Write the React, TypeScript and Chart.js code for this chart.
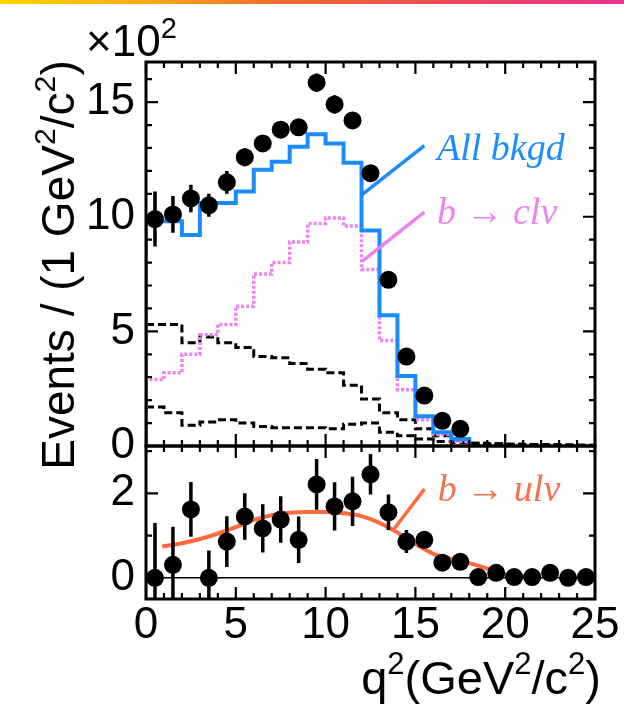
import React, { useEffect, useRef } from 'react';
import { Chart, registerables } from 'chart.js';

Chart.register(...registerables);

// ---- data ----------------------------------------------------------------
// q² bins of 1 GeV²/c², starting at 0
const xTickValues = [0, 5, 10, 15, 20, 25];
const yTopTickValues = [0, 5, 10, 15];
const yBotTickValues = [0, 2];

// upper panel (events ×10²)
const dataTop = [9.9, 10.1, 10.8, 10.5, 11.5, 12.6, 13.2, 13.8, 13.9, 15.85, 14.9, 14.2, 11.9, 7.25, 3.9, 2.2, 1.1, 0.75];
const dataTopErr = [1.2, 0.8, 0.6, 0.5, 0.5, 0.4, 0.35, 0.35, 0.35, 0.4, 0.4, 0.35, 0.35, 0.3, 0.25, 0.2, 0.15, 0.15];
const allBkgd = [9.8, 9.8, 9.2, 10.6, 10.6, 11.1, 12.05, 12.4, 13.05, 13.6, 13.2, 12.35, 9.4, 5.7, 3.05, 1.3, 0.6, 0.3];
const bToCLNu = [2.9, 3.2, 4.0, 4.85, 5.3, 6.1, 7.5, 8.0, 8.9, 9.7, 9.95, 9.6, 7.7, 4.6, 2.45, 1.15, 0.5, 0.2];
const bkgdUpper = [5.3, 5.3, 4.5, 4.75, 4.5, 4.3, 3.9, 3.85, 3.6, 3.35, 3.2, 2.65, 2.05, 1.45, 1.15, 0.75, 0.45, 0.25, 0.12, 0.1, 0.08, 0.06, 0.05, 0.04, 0.03];
const bkgdLower = [1.7, 1.45, 0.9, 1.05, 1.15, 1.0, 0.85, 0.8, 0.8, 0.8, 0.75, 0.95, 1.0, 0.6, 0.45, 0.3, 0.2, 0.15, 0.12, 0.1, 0.08, 0.06, 0.05, 0.04, 0.03];

// lower panel (background-subtracted yield ×10²)
const dataBot = [0.0, 0.31, 1.62, 0.0, 0.86, 1.45, 1.17, 1.38, 0.9, 2.21, 1.69, 1.81, 2.45, 1.55, 0.86, 0.9, 0.36, 0.38, 0.02, 0.12, 0.02, 0.02, 0.12, 0.0, 0.02];
const dataBotErr = [1.3, 0.9, 0.65, 0.65, 0.6, 0.55, 0.57, 0.55, 0.55, 0.6, 0.57, 0.58, 0.48, 0.42, 0.27, 0.2, 0.15, 0.12, 0.1, 0.08, 0.06, 0.05, 0.05, 0.05, 0.05];
const ulFitQ2 = [0.9, 2, 3, 4, 5, 6, 7, 8, 9, 10, 11, 12, 13, 14, 15, 16, 17, 18, 19, 20, 21, 22];
const ulFitVal = [0.74, 0.82, 0.92, 1.05, 1.2, 1.37, 1.48, 1.54, 1.56, 1.56, 1.53, 1.46, 1.3, 1.07, 0.8, 0.57, 0.45, 0.35, 0.22, 0.08, 0.02, 0.0];

// ---- styling --------------------------------------------------------------
const SANS = "'Liberation Sans', Arial, Helvetica, sans-serif";
const SERIF = "'Liberation Serif', 'Times New Roman', serif";
const BLUE = '#1a8cff';
const VIOLET = '#ee82ee';
const ORANGE = '#ff6a3d';
const ORANGE_TEXT = '#f3724f';

type Pt = { x: number; y: number };

const histogram = (vals: number[], fromZero: boolean): Pt[] => {
  const pts: Pt[] = fromZero ? [{ x: 0, y: 0 }] : [];
  vals.forEach((v, i) => pts.push({ x: i, y: v }));
  pts.push({ x: vals.length, y: vals[vals.length - 1] });
  pts.push({ x: vals.length, y: 0 });
  return pts;
};
const binCentres = (vals: number[]): Pt[] => vals.map((v, i) => ({ x: i + 0.5, y: v }));

type Seg = { t: string; sup?: boolean };

function richWidth(ctx: CanvasRenderingContext2D, segs: Seg[], size: number) {
  let w = 0;
  for (const s of segs) {
    ctx.font = `${s.sup ? size * 0.66 : size}px ${SANS}`;
    w += ctx.measureText(s.t).width;
  }
  return w;
}

function drawRich(ctx: CanvasRenderingContext2D, segs: Seg[], x: number, y: number, size: number) {
  let cx = x;
  ctx.textBaseline = 'alphabetic';
  ctx.textAlign = 'left';
  for (const s of segs) {
    const fs = s.sup ? size * 0.66 : size;
    ctx.font = `${fs}px ${SANS}`;
    ctx.fillText(s.t, cx, s.sup ? y - size * 0.42 : y);
    cx += ctx.measureText(s.t).width;
  }
}

const panelDecor = {
  id: 'panelDecor',
  beforeDatasetDraw(chart: any, args: any) {
    const ds = chart.data.datasets[args.index];
    if (!ds.errorBars) return;
    const ctx: CanvasRenderingContext2D = chart.ctx;
    const ys = chart.scales[args.meta.yAxisID];
    const a = chart.chartArea;
    ctx.save();
    ctx.beginPath();
    ctx.rect(a.left, a.top, a.right - a.left, a.bottom - a.top);
    ctx.clip();
    ctx.strokeStyle = '#000';
    ctx.lineWidth = 3.5;
    ctx.beginPath();
    ds.data.forEach((p: Pt, i: number) => {
      const e = ds.errorBars[i];
      const px = args.meta.data[i].x;
      ctx.moveTo(px, ys.getPixelForValue(p.y - e));
      ctx.lineTo(px, ys.getPixelForValue(p.y + e));
    });
    ctx.stroke();
    ctx.restore();
  },
  afterDatasetsDraw(chart: any) {
    const ctx: CanvasRenderingContext2D = chart.ctx;
    const x = chart.scales.x;
    const yt = chart.scales.yTop;
    const yb = chart.scales.yBot;
    const labels = [
      { ys: yt, from: [12.03, 10.96], to: [15.5, 13.1], text: 'All bkgd', at: [16.2, 12.9], color: BLUE, textColor: BLUE },
      { ys: yt, from: [12.03, 8.05], to: [15.5, 10.2], text: 'b \u2192 cl\u03BD', at: [16.2, 10.1], color: VIOLET, textColor: VIOLET },
      { ys: yb, from: [13.8, 1.15], to: [15.5, 2.1], text: 'b \u2192 ul\u03BD', at: [16.25, 2.05], color: ORANGE, textColor: ORANGE_TEXT },
    ];
    ctx.save();
    for (const l of labels) {
      ctx.strokeStyle = l.color;
      ctx.lineWidth = 3.5;
      ctx.beginPath();
      ctx.moveTo(x.getPixelForValue(l.from[0]), l.ys.getPixelForValue(l.from[1]));
      ctx.lineTo(x.getPixelForValue(l.to[0]), l.ys.getPixelForValue(l.to[1]));
      ctx.stroke();
      ctx.fillStyle = l.textColor;
      ctx.font = `italic 38px ${SERIF}`;
      ctx.textAlign = 'left';
      ctx.textBaseline = 'middle';
      ctx.fillText(l.text, x.getPixelForValue(l.at[0]), l.ys.getPixelForValue(l.at[1]));
    }
    ctx.restore();
  },
  afterDraw(chart: any) {
    const ctx: CanvasRenderingContext2D = chart.ctx;
    const xs = chart.scales.x;
    const panels = [
      { ys: chart.scales.yTop, minor: 1, major: 5 },
      { ys: chart.scales.yBot, minor: 1, major: 2 },
    ];
    const left = xs.left;
    const right = xs.right;
    ctx.save();
    ctx.strokeStyle = '#000';
    for (const p of panels) {
      const top = p.ys.top;
      const bottom = p.ys.bottom;
      // x ticks on top and bottom edges, pointing inwards
      ctx.lineWidth = 2.2;
      ctx.beginPath();
      for (let v = 0; v <= 25; v += 1) {
        const px = xs.getPixelForValue(v);
        const len = v % 5 === 0 ? 12 : 6;
        ctx.moveTo(px, bottom);
        ctx.lineTo(px, bottom - len);
        ctx.moveTo(px, top);
        ctx.lineTo(px, top + len);
      }
      // y ticks on left and right edges
      const lo = Math.ceil(p.ys.min);
      for (let v = lo; v <= p.ys.max; v += p.minor) {
        const py = p.ys.getPixelForValue(v);
        const len = v % p.major === 0 ? 12 : 6;
        ctx.moveTo(left, py);
        ctx.lineTo(left + len, py);
        ctx.moveTo(right, py);
        ctx.lineTo(right - len, py);
      }
      ctx.stroke();
      ctx.lineWidth = 3;
      ctx.strokeRect(left, top, right - left, bottom - top);
    }

    // axis titles
    ctx.fillStyle = '#000';
    const yTitle: Seg[] = [{ t: 'Events / (1 GeV' }, { t: '2', sup: true }, { t: '/c' }, { t: '2', sup: true }, { t: ')' }];
    const ySize = 46;
    const yw = richWidth(ctx, yTitle, ySize);
    ctx.save();
    ctx.translate(74, 265);
    ctx.rotate(-Math.PI / 2);
    drawRich(ctx, yTitle, -yw / 2, 0, ySize);
    ctx.restore();

    const xTitle: Seg[] = [{ t: 'q' }, { t: '2', sup: true }, { t: '(GeV' }, { t: '2', sup: true }, { t: '/c' }, { t: '2', sup: true }, { t: ')' }];
    const xSize = 47;
    const xw = richWidth(ctx, xTitle, xSize);
    drawRich(ctx, xTitle, 601 - xw, 694, xSize);

    const mult: Seg[] = [{ t: '\u00D710' }, { t: '2', sup: true }];
    drawRich(ctx, mult, 86, 56, 44);
    ctx.restore();
  },
};

const fixedTicks = (values: number[]) => (scale: any) => {
  scale.ticks = values.map((v) => ({ value: v }));
};

export default function App() {
  const canvasRef = useRef<HTMLCanvasElement>(null);

  useEffect(() => {
    const canvas = canvasRef.current;
    if (!canvas) return;
    const tickFont = { family: SANS, size: 44 };
    const chart = new Chart(canvas, {
      type: 'line',
      data: {
        datasets: [
          {
            label: 'data (upper)',
            data: binCentres(dataTop),
            errorBars: dataTopErr,
            yAxisID: 'yTop',
            showLine: false,
            pointRadius: 9,
            pointBackgroundColor: '#000',
            pointBorderWidth: 0,
          } as any,
          {
            label: 'data (lower)',
            data: binCentres(dataBot),
            errorBars: dataBotErr,
            yAxisID: 'yBot',
            showLine: false,
            pointRadius: 9,
            pointBackgroundColor: '#000',
            pointBorderWidth: 0,
          } as any,
          {
            label: 'All bkgd',
            data: histogram(allBkgd, true),
            yAxisID: 'yTop',
            stepped: true,
            borderColor: BLUE,
            borderWidth: 4,
            pointRadius: 0,
          },
          {
            label: 'b \u2192 ul\u03BD',
            data: ulFitQ2.map((q, i) => ({ x: q, y: ulFitVal[i] })),
            yAxisID: 'yBot',
            borderColor: ORANGE,
            borderWidth: 4,
            pointRadius: 0,
            cubicInterpolationMode: 'monotone',
          },
          {
            label: 'b \u2192 cl\u03BD',
            data: histogram(bToCLNu, true),
            yAxisID: 'yTop',
            stepped: true,
            borderColor: VIOLET,
            borderWidth: 3.5,
            borderDash: [3, 2],
            pointRadius: 0,
          },
          {
            label: 'bkgd A',
            data: histogram(bkgdUpper, false),
            yAxisID: 'yTop',
            stepped: true,
            borderColor: '#000',
            borderWidth: 3,
            borderDash: [8, 4],
            pointRadius: 0,
          },
          {
            label: 'bkgd B',
            data: histogram(bkgdLower, false),
            yAxisID: 'yTop',
            stepped: true,
            borderColor: '#000',
            borderWidth: 3,
            borderDash: [8, 4],
            pointRadius: 0,
          },
          {
            label: 'zero',
            data: [
              { x: 0, y: 0 },
              { x: 25, y: 0 },
            ],
            yAxisID: 'yBot',
            borderColor: '#000',
            borderWidth: 1.5,
            pointRadius: 0,
          },
        ],
      },
      options: {
        animation: false,
        responsive: false,
        maintainAspectRatio: false,
        layout: { padding: { top: 62, right: 29, left: 0, bottom: 0 } },
        plugins: { legend: { display: false }, tooltip: { enabled: false } },
        scales: {
          x: {
            type: 'linear',
            position: 'bottom',
            min: 0,
            max: 25,
            grid: { display: false, drawTicks: false },
            border: { display: false },
            afterBuildTicks: fixedTicks(xTickValues),
            afterFit: (s: any) => {
              s.height = 112;
            },
            ticks: { font: tickFont, color: '#000', padding: 0, autoSkip: false, maxRotation: 0, minRotation: 0 },
          },
          yTop: {
            type: 'linear',
            position: 'left',
            stack: 'panels',
            stackWeight: 384,
            weight: 2,
            min: 0,
            max: 16.75,
            grid: { display: false, drawTicks: false },
            border: { display: false },
            afterBuildTicks: fixedTicks(yTopTickValues),
            afterFit: (s: any) => {
              s.width = 146;
            },
            ticks: { font: tickFont, color: '#000', padding: 11, autoSkip: false },
          },
          yBot: {
            type: 'linear',
            position: 'left',
            stack: 'panels',
            stackWeight: 153,
            weight: 1,
            min: -0.5,
            max: 3.12,
            grid: { display: false, drawTicks: false },
            border: { display: false },
            afterBuildTicks: fixedTicks(yBotTickValues),
            afterFit: (s: any) => {
              s.width = 146;
            },
            ticks: { font: tickFont, color: '#000', padding: 11, autoSkip: false },
          },
        },
      } as any,
      plugins: [panelDecor],
    });
    return () => chart.destroy();
  }, []);

  return (
    <div style={{ position: 'absolute', left: 0, top: 0, width: 624, height: 711, background: '#fff' }}>
      <canvas ref={canvasRef} width={624} height={711} style={{ display: 'block', width: 624, height: 711 }} />
      <div
        style={{
          position: 'absolute',
          left: 0,
          top: 0,
          width: 624,
          height: 4,
          background: 'linear-gradient(to right, #ffd400 0%, #f9a51a 25%, #f26a2c 45%, #ef4a55 70%, #e6338f 100%)',
        }}
      />
    </div>
  );
}
